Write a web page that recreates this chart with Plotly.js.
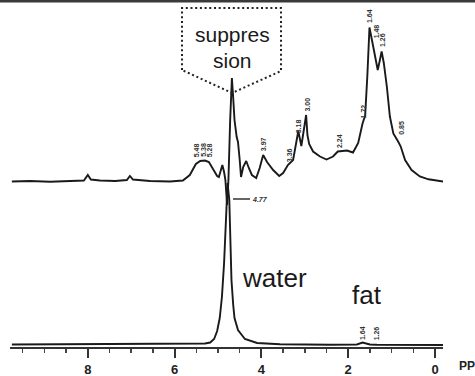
<!DOCTYPE html>
<html>
<head>
<meta charset="utf-8">
<script src="https://cdn.plot.ly/plotly-3.0.1.min.js"></script>
<style>html,body{margin:0;padding:0;background:#fff;}#chart{width:475px;height:376px;}</style>
</head>
<body>
<div id="chart"></div>
<script>
// Upper trace: water-suppressed spectrum (chemical shift ppm, relative intensity)
const upperPpm = [9.75,9.33,8.87,8.41,8.09,8.00,7.93,7.72,7.37,7.10,7.03,6.96,6.57,6.11,5.81,5.65,5.51,5.41,5.30,5.21,5.12,5.02,4.98,4.93,4.90,4.86,4.83,4.79,4.76,4.72,4.68,4.65,4.62,4.57,4.54,4.50,4.47,4.42,4.35,4.29,4.22,4.12,4.04,3.96,3.87,3.73,3.59,3.50,3.39,3.27,3.20,3.15,3.08,3.02,2.97,2.94,2.90,2.81,2.65,2.50,2.35,2.24,2.03,1.89,1.77,1.67,1.61,1.56,1.51,1.44,1.38,1.32,1.27,1.23,1.18,1.11,1.04,0.96,0.85,0.79,0.69,0.54,0.35,0.15,-0.19];
const upperInt = [0,0.5,-0.3,0.5,1,6.5,2,1,0.5,1.5,5.5,2,0.5,0,1,6.5,17.5,20.5,21,19.5,13.5,5.5,4.5,11.5,16.5,9.5,1.5,-23.5,1.5,61.5,103.5,83.5,61.5,44.5,39.5,21.5,4.5,14.5,20.5,13.5,6.5,3.5,13.5,26.5,19.5,11.5,5.5,8.5,16.5,21.5,39.5,50.5,35.5,51.5,66.5,46.5,37.5,30,25,22,25,30,31,29,38.5,58,66,105,154,138.5,125,111.5,121.5,130,118.5,95,65,48,40,35,21.5,11.5,5,2.2,0];

// Lower trace: unsuppressed spectrum (water + fat)
const lowerPpm = [9.75,7.72,5.88,5.30,5.18,5.09,5.02,4.96,4.91,4.86,4.82,4.78,4.74,4.71,4.69,4.65,4.62,4.54,4.38,4.10,3.57,2.42,1.80,1.67,1.50,1.34,-0.19];
const lowerInt = [0,0.2,0.5,1,2,5.5,13.5,26.5,47.5,81.5,121.5,161.5,144.5,104.5,64.5,39.5,26.5,14.5,5.5,1.5,0.2,-0.3,0,2,0,-0.3,-0.5];

// Axis ticks
const tickVals = [8,6,4,2,0];
const tickText = ['8','6','4','2','0'];

// Peak labels
const upperLabels = ['5.48','5.38','5.28','3.97','3.36','3.18','3.00','2.24','1.72','1.64','1.48','1.26','0.85'];
const lowerLabels = ['1.64','1.26'];
const waterLabel = '4.77';

// label placements (drawn position, ppm / intensity)
const upperLabelX = [5.50,5.35,5.20,3.96,3.36,3.15,2.96,2.21,1.65,1.51,1.34,1.21,0.79];
const upperLabelY = [31.5,31.5,31.5,37.5,26.5,55.5,76.5,40.5,70.5,166,150,141,53.5];
const lowerLabelX = [1.67,1.34];
const lowerLabelY = [11,11];

const FONT = 'Liberation Sans, Arial, Helvetica, sans-serif';
const W = 475, PH = 347;
const px = x => x / W;
const py = y => (PH - y) / PH;

const traces = [
  {x: lowerPpm, y: lowerInt, type: 'scatter', mode: 'lines', yaxis: 'y',
   line: {color: '#1a1a1a', width: 1.9}, hoverinfo: 'skip'},
  {x: upperPpm, y: upperInt, type: 'scatter', mode: 'lines', yaxis: 'y2',
   line: {color: '#1a1a1a', width: 1.9}, hoverinfo: 'skip'}
];

function txt(x, y, text, size, extra) {
  return Object.assign({x: px(x), y: py(y), xref: 'paper', yref: 'paper', text: text,
    xanchor: 'center', yanchor: 'middle', showarrow: false,
    font: {family: FONT, size: size, color: '#1a1a1a'}}, extra || {});
}

const annotations = [];
upperLabels.forEach((t, i) => annotations.push({
  x: upperLabelX[i], y: upperLabelY[i], xref: 'x', yref: 'y2', text: t, showarrow: false,
  xanchor: 'center', yanchor: 'middle',
  textangle: -90, font: {family: FONT, size: 7, weight: 'bold', color: '#333'}
}));
lowerLabels.forEach((t, i) => annotations.push({
  x: lowerLabelX[i], y: lowerLabelY[i], xref: 'x', yref: 'y', text: t, showarrow: false,
  xanchor: 'center', yanchor: 'middle',
  textangle: -90, font: {family: FONT, size: 7, weight: 'bold', color: '#333'}
}));
annotations.push(txt(259.5, 199, waterLabel, 7, {font: {family: FONT, size: 7, weight: 'bold', style: 'italic', color: '#333'}}));
annotations.push(txt(232, 34, 'suppres', 21));
annotations.push(txt(232, 60, 'sion', 21));
annotations.push(txt(274.5, 278, 'water', 26));
annotations.push(txt(366.5, 295, 'fat', 26));
annotations.push(txt(457, 366, 'PPM', 12, {xanchor: 'left', font: {family: FONT, size: 12, weight: 'bold', color: '#222'}}));

const boxPath = `M ${px(182)},${py(70)} L ${px(182)},${py(8)} L ${px(281)},${py(8)} L ${px(281)},${py(71)} L ${px(232)},${py(93)} Z`;

const shapes = [
  {type: 'line', xref: 'paper', yref: 'paper', x0: 0, x1: 1, y0: py(1.2), y1: py(1.2),
   line: {color: '#3a3a3a', width: 2.5}},
  {type: 'path', xref: 'paper', yref: 'paper', path: boxPath,
   line: {color: '#222', width: 2, dash: '2px,2.7px'}},
  {type: 'line', xref: 'paper', yref: 'paper', x0: px(233), x1: px(250), y0: py(199), y1: py(199),
   line: {color: '#333', width: 1.5}}
];

const layout = {
  width: 475, height: 376,
  margin: {l: 0, r: 0, t: 0, b: 29, pad: 0},
  paper_bgcolor: '#ffffff', plot_bgcolor: '#ffffff',
  showlegend: false,
  xaxis: {
    domain: [10 / W, 443 / W], range: [9.793, -0.184],
    showline: true, linecolor: '#333', linewidth: 2,
    ticks: 'outside', ticklen: 9, tickwidth: 2, tickcolor: '#333',
    tickmode: 'array', tickvals: tickVals, ticktext: tickText,
    tickfont: {family: FONT, size: 13, weight: 'bold', color: '#222'},
    showgrid: false, zeroline: false, automargin: false,
    minor: {tick0: 0, dtick: 0.5, ticks: 'outside', ticklen: 4, tickwidth: 1.5, tickcolor: '#444', showgrid: false}
  },
  yaxis: {range: [-2.5, 344.5], visible: false, fixedrange: true},
  yaxis2: {range: [-165.5, 181.5], overlaying: 'y', visible: false, fixedrange: true},
  annotations: annotations,
  shapes: shapes
};

Plotly.newPlot('chart', traces, layout, {displayModeBar: false, staticPlot: true});
</script>
</body>
</html>
